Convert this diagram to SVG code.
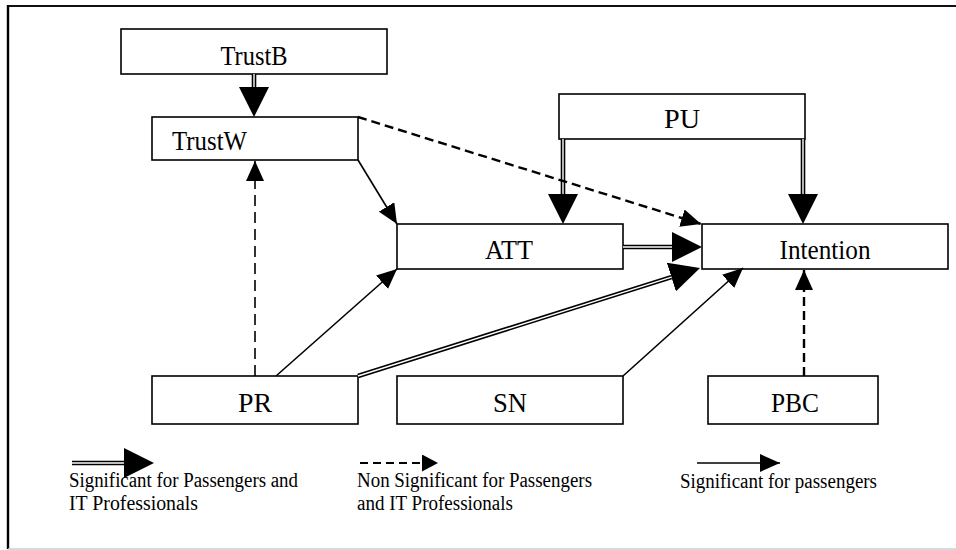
<svg xmlns="http://www.w3.org/2000/svg" width="956" height="550" viewBox="0 0 956 550">
<style>
.box{fill:#fff;stroke:#000;stroke-width:1.6}
.lbl{font-family:"Liberation Serif","Times New Roman",serif;font-size:28px;fill:#000}
.leg{font-family:"Liberation Serif","Times New Roman",serif;font-size:20px;fill:#000}
.dblo{fill:none;stroke:#000;stroke-width:4.6}
.dbli{fill:none;stroke:#fff;stroke-width:1.4}
.sol{fill:none;stroke:#000;stroke-width:1.6}
.dsh{fill:none;stroke:#000;stroke-width:2.4;stroke-dasharray:9 5}
.dsh2{fill:none;stroke:#000;stroke-width:1.6;stroke-dasharray:11 6}
</style>
<defs>
<marker id="big" markerUnits="userSpaceOnUse" viewBox="0 0 30 30" markerWidth="30" markerHeight="30" refX="0" refY="15" orient="auto"><path d="M0,0 L30,15 L0,30 z" fill="#000"/></marker>
<marker id="mid" markerUnits="userSpaceOnUse" viewBox="0 0 20 18" markerWidth="20" markerHeight="18" refX="20" refY="9" orient="auto"><path d="M0,0 L20,9 L0,18 z" fill="#000"/></marker>
<marker id="sml" markerUnits="userSpaceOnUse" viewBox="0 0 16 17" markerWidth="16" markerHeight="17" refX="16" refY="8.5" orient="auto"><path d="M0,0 L16,8.5 L0,17 z" fill="#000"/></marker>
</defs>
<rect x="0" y="0" width="956" height="550" fill="#fff"/>
<g id="frame">
<line x1="8" y1="6" x2="956" y2="6" stroke="#111" stroke-width="2"/>
<line x1="8" y1="5" x2="8" y2="549" stroke="#000" stroke-width="2.4"/>
<line x1="8" y1="549" x2="956" y2="549" stroke="#ccc" stroke-width="1.5"/>
</g>
<g id="TrustB"><rect class="box" x="121" y="29" width="266" height="45"/><text class="lbl" x="254" y="65" text-anchor="middle" textLength="67" lengthAdjust="spacingAndGlyphs">TrustB</text></g>
<g id="TrustW"><rect class="box" x="152" y="117" width="206" height="43"/><text class="lbl" x="172" y="150" textLength="75" lengthAdjust="spacingAndGlyphs">TrustW</text></g>
<g id="PU"><rect class="box" x="559" y="94" width="246" height="45"/><text class="lbl" x="682" y="128" text-anchor="middle" textLength="36" lengthAdjust="spacingAndGlyphs">PU</text></g>
<g id="ATT"><rect class="box" x="397" y="224" width="226" height="45"/><text class="lbl" x="509" y="259" text-anchor="middle" textLength="48" lengthAdjust="spacingAndGlyphs">ATT</text></g>
<g id="Intention"><rect class="box" x="702" y="224" width="246" height="45"/><text class="lbl" x="825" y="259" text-anchor="middle" textLength="91" lengthAdjust="spacingAndGlyphs">Intention</text></g>
<g id="PR"><rect class="box" x="152" y="376" width="206" height="48"/><text class="lbl" x="255" y="412" text-anchor="middle" textLength="34" lengthAdjust="spacingAndGlyphs">PR</text></g>
<g id="SN"><rect class="box" x="397" y="376" width="226" height="48"/><text class="lbl" x="510" y="412" text-anchor="middle" textLength="34" lengthAdjust="spacingAndGlyphs">SN</text></g>
<g id="PBC"><rect class="box" x="708" y="376" width="170" height="48"/><text class="lbl" x="795" y="412" text-anchor="middle" textLength="48" lengthAdjust="spacingAndGlyphs">PBC</text></g>
<g id="connectors">
<path class="dblo" d="M254,74 L254,87" marker-end="url(#big)"/><path class="dbli" d="M254,74 L254,87"/>
<path class="dblo" d="M563,139 L563,194" marker-end="url(#big)"/><path class="dbli" d="M563,139 L563,194"/>
<path class="dblo" d="M803,139 L803,194" marker-end="url(#big)"/><path class="dbli" d="M803,139 L803,194"/>
<path class="dblo" d="M623,247 L672,247" marker-end="url(#big)"/><path class="dbli" d="M623,247 L672,247"/>
<path class="dblo" d="M358,376 L671.4,277.1" marker-end="url(#big)"/><path class="dbli" d="M358,376 L671.4,277.1"/>
<path class="dsh" d="M358,117 L701,224" marker-end="url(#mid)"/>
<path class="dsh2" d="M255,376 L255,161" marker-end="url(#mid)"/>
<path class="dsh" d="M804,376 L804,270" marker-end="url(#mid)"/>
<path class="sol" d="M358,160 L397,224" marker-end="url(#mid)"/>
<path class="sol" d="M276,376 L397,269" marker-end="url(#mid)"/>
<path class="sol" d="M623,376 L743,268" marker-end="url(#mid)"/>
</g>
<g id="legend">
<path class="dblo" d="M72,463 L124,463" marker-end="url(#big)"/><path class="dbli" d="M72,463 L124,463"/>
<text class="leg" x="69" y="487" textLength="229" lengthAdjust="spacingAndGlyphs">Significant for Passengers and</text>
<text class="leg" x="69" y="510" textLength="129" lengthAdjust="spacingAndGlyphs">IT Professionals</text>
<path class="dsh" d="M360,463 L438,463" style="stroke-width:2;stroke-dasharray:8 5" marker-end="url(#sml)"/>
<text class="leg" x="357" y="487" textLength="235" lengthAdjust="spacingAndGlyphs">Non Significant for Passengers</text>
<text class="leg" x="357" y="510" textLength="156" lengthAdjust="spacingAndGlyphs">and IT Professionals</text>
<path class="sol" d="M697,463 L780,463" marker-end="url(#mid)"/>
<text class="leg" x="680" y="488" textLength="197" lengthAdjust="spacingAndGlyphs">Significant for passengers</text>
</g>
</svg>
